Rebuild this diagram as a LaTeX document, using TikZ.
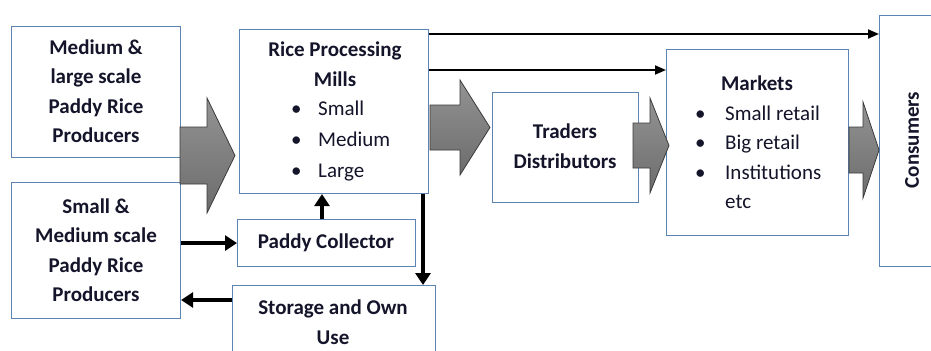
\documentclass[tikz,border=0pt]{standalone}
\usepackage{fontspec}
\setmainfont{Carlito}
\usetikzlibrary{arrows.meta}

\definecolor{boxline}{HTML}{5B84B5}
\definecolor{ink}{HTML}{14142A}
\definecolor{arrowtop}{HTML}{939393}
\definecolor{arrowbot}{HTML}{6C6C6C}
\definecolor{arrowedge}{HTML}{3A3A3A}

\tikzset{
  x=1bp, y=-1bp,
  box/.style={draw=boxline, line width=1.1bp, fill=white, inner sep=0pt,
              anchor=north west},
  label/.style={text=ink, inner sep=0pt, align=center,
                font=\fontsize{21bp}{29.5bp}\selectfont\bfseries},
  item/.style={text=ink, inner sep=0pt, anchor=west, text height=14bp, text depth=4bp,
               font=\fontsize{21bp}{29.5bp}\selectfont},
  blockarrow/.style={draw=arrowedge, line width=0.8bp, top color=arrowtop,
                     bottom color=arrowbot, line join=miter},
  flow/.style={draw=black, line width=4.2bp,
               -{Triangle[length=12bp,width=15bp]}},
  bypass/.style={draw=black, line width=1.9bp,
                 -{Triangle[length=11bp,width=9bp]}},
}

\begin{document}
\begin{tikzpicture}
\useasboundingbox (0,0) rectangle (931,350);
\fill[white] (0,0) rectangle (931,350);

% producers
\node[box, minimum width=169bp, minimum height=131bp] (large) at (11,26) {};
\node[label] (largetxt) at (96,91) {Medium \&\\large scale\\Paddy Rice\\Producers};
\node[box, minimum width=169bp, minimum height=136bp] (small) at (11,182) {};
\node[label] (smalltxt) at (96,250) {Small \&\\Medium scale\\Paddy Rice\\Producers};

% mills
\node[box, minimum width=189bp, minimum height=164bp] (mills) at (239,29) {};
\node[label] (millstxt) at (335,64) {Rice Processing\\Mills};
\foreach \y/\t [count=\i] in {110/Small,141/Medium,172/Large}{
  \node[item] (mb\i) at (291,\y) {•};
  \node[item] (mi\i) at (318,\y) {\t};
}

% collector and storage
\node[box, minimum width=178bp, minimum height=47bp] (paddy) at (237,219) {};
\node[label] (paddytxt) at (326,242.5) {Paddy Collector};
\node[box, minimum width=203bp, minimum height=80bp] (storage) at (232,285) {};
\node[label] (storagetxt) at (333,322) {Storage and Own\\Use};

% traders, markets, consumers
\node[box, minimum width=146bp, minimum height=110bp] (traders) at (492,92) {};
\node[label] (traderstxt) at (565,146) {Traders\\Distributors};
\node[box, minimum width=182bp, minimum height=186bp] (markets) at (666,49) {};
\node[label] (marketstxt) at (757,83) {Markets};
\foreach \y/\t [count=\i] in {115/Small retail,144/Big retail,174/Institutions}{
  \node[item] (kb\i) at (695,\y) {•};
  \node[item] (ki\i) at (725,\y) {\t};
}
\node[item] (ki4) at (725,203) {etc};
\node[box, minimum width=70bp, minimum height=251bp] (cons) at (879,15) {};
\node[label, rotate=90] (constxt) at (912,140) {Consumers};

% block arrows along the main chain
\path[blockarrow] (180,127) -- (207,127) -- (207,98) -- (235,155.5) -- (207,213)
  -- (207,184) -- (180,184) -- cycle;
\path[blockarrow] (430,105) -- (460,105) -- (460,80) -- (490,127.5) -- (460,175)
  -- (460,150) -- (430,150) -- cycle;
\path[blockarrow] (633,123) -- (650,123) -- (650,98) -- (669,145.5) -- (650,193)
  -- (650,168) -- (633,168) -- cycle;
\path[blockarrow] (849,127) -- (863,127) -- (863,102) -- (879,150) -- (863,198)
  -- (863,173) -- (849,173) -- cycle;

% side flows
\draw[flow] (small.east |- paddy.west) -- (paddy.west);
\draw[flow] (paddy.north -| 322,0) -- (mills.south -| 322,0);
\draw[flow] (mills.south -| 423,0) -- (storage.north -| 423,0);
\draw[flow] (storage.west |- 0,300) -- (small.east |- 0,300);

% direct sales from the mills
\draw[bypass] (mills.east |- 0,34) -- (cons.west |- 0,34);
\draw[bypass] (mills.east |- 0,70) -- (markets.west |- 0,70);
\end{tikzpicture}
\end{document}
